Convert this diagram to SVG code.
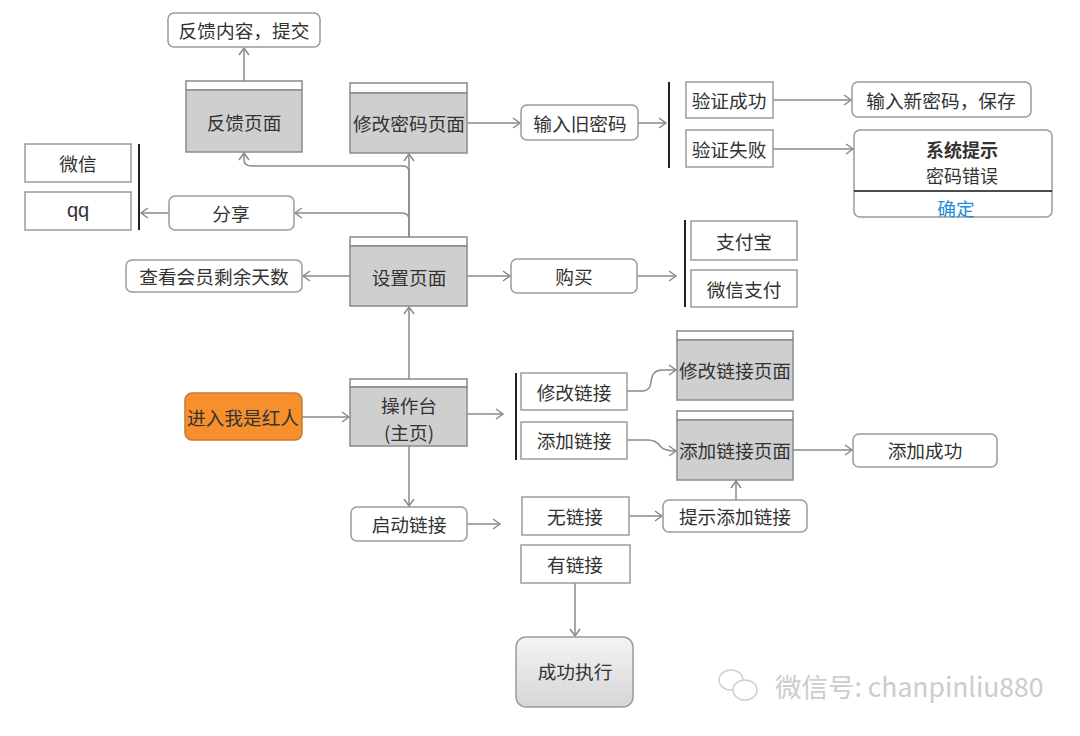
<svg xmlns="http://www.w3.org/2000/svg" width="1080" height="736" viewBox="0 0 1080 736">
<defs>
<marker id="arr" markerWidth="12" markerHeight="12" refX="9" refY="6" orient="auto" markerUnits="userSpaceOnUse">
<path d="M2,1 L9,6 L2,11" fill="none" stroke="#8a8a8a" stroke-width="1.5"/>
</marker>
<linearGradient id="g1" x1="0" y1="0" x2="0" y2="1">
<stop offset="0" stop-color="#f4f4f4"/>
<stop offset="1" stop-color="#d6d6d6"/>
</linearGradient>
</defs>
<style>
text{font-family:"Noto Sans CJK SC","Liberation Sans",sans-serif;font-size:18.7px;fill:#333;text-anchor:middle;dominant-baseline:central}
.r{fill:#fff;stroke:#9a9a9a;stroke-width:1.5}
.b{fill:#fff;stroke:#9a9a9a;stroke-width:1.5}
.pg{fill:#cfcfcf;stroke:#8a8a8a;stroke-width:1.5}
.ph{fill:#fff;stroke:#8a8a8a;stroke-width:1.5}
.br{stroke:#222;stroke-width:2;fill:none}
.c{fill:none;stroke:#8a8a8a;stroke-width:1.5;marker-end:url(#arr)}
.cn{fill:none;stroke:#8a8a8a;stroke-width:1.5}
</style>
<rect width="1080" height="736" fill="#fff"/>

<g id="connectors">
<path class="c" d="M244,90 V48"/>
<path class="cn" d="M409,246 V172"/>
<path class="c" d="M409,246 V154"/>
<path class="c" d="M409,172 Q409,166 403,166 H252 Q244,166 244,160 V153"/>
<path class="c" d="M409,220 Q409,213 402,213 H295"/>
<path class="c" d="M169,213 H141"/>
<path class="c" d="M350,276 H303"/>
<path class="c" d="M467,276 H510"/>
<path class="c" d="M637,276 H676"/>
<path class="c" d="M409,387 V307"/>
<path class="c" d="M302,417 H349"/>
<path class="c" d="M467,414 H503"/>
<path class="c" d="M409,446 V506"/>
<path class="c" d="M467,524 H500"/>
<path class="c" d="M627,391 H643 Q650,391 651,382 Q652,370 662,370 H676"/>
<path class="c" d="M627,440 H648 Q656,440 660,446 Q664,451 676,451"/>
<path class="c" d="M793,450 H852"/>
<path class="c" d="M629,516 H662"/>
<path class="c" d="M736,500 V481"/>
<path class="c" d="M575,583 V636"/>
<path class="c" d="M467,123 H520"/>
<path class="c" d="M638,123 H666"/>
<path class="c" d="M773,100 H851"/>
<path class="c" d="M773,149 H853"/>
</g>

<g id="n-feedback-submit"><rect class="r" x="168" y="13" width="152" height="34" rx="6"/><text x="244" y="29">反馈内容，提交</text></g>
<g id="n-feedback-page"><rect class="ph" x="186" y="81" width="116" height="9"/><rect class="pg" x="186" y="90" width="116" height="62"/><text x="244" y="121">反馈页面</text></g>
<g id="n-pwd-page"><rect class="ph" x="350" y="83" width="117" height="10"/><rect class="pg" x="350" y="93" width="117" height="60"/><text x="409" y="122">修改密码页面</text></g>
<g id="n-old-pwd"><rect class="r" x="521" y="105" width="117" height="35" rx="6"/><text x="580" y="122">输入旧密码</text></g>
<g id="n-verify">
<line class="br" x1="669" y1="82" x2="669" y2="168"/>
<rect class="b" x="686" y="82" width="87" height="36"/><text x="729" y="99">验证成功</text>
<rect class="b" x="686" y="130" width="87" height="37"/><text x="729" y="148">验证失败</text>
</g>
<g id="n-new-pwd"><rect class="r" x="852" y="82" width="179" height="35" rx="6"/><text x="941" y="99">输入新密码，保存</text></g>
<g id="n-alert">
<rect class="r" x="854" y="130" width="198" height="87" rx="6"/>
<line x1="854" y1="191" x2="1052" y2="191" stroke="#111" stroke-width="1.5"/>
<text x="962" y="149" font-weight="bold" style="font-size:18px">系统提示</text>
<text x="962" y="175" style="font-size:18px">密码错误</text>
<text x="956" y="207" style="fill:#1e8fd8">确定</text>
</g>
<g id="n-share-targets">
<rect class="b" x="25" y="144" width="106" height="38"/><text x="78" y="162">微信</text>
<rect class="b" x="25" y="192" width="106" height="38"/><text x="78" y="210" style="font-family:'Liberation Sans',sans-serif;font-size:20px">qq</text>
<line class="br" x1="139" y1="144" x2="139" y2="230"/>
</g>
<g id="n-share"><rect class="r" x="169" y="196" width="125" height="34" rx="6"/><text x="231" y="212">分享</text></g>
<g id="n-settings"><rect class="ph" x="350" y="237" width="117" height="9"/><rect class="pg" x="350" y="246" width="117" height="60"/><text x="409" y="276">设置页面</text></g>
<g id="n-member-days"><rect class="r" x="126" y="260" width="176" height="32" rx="6"/><text x="214" y="275">查看会员剩余天数</text></g>
<g id="n-buy"><rect class="r" x="511" y="259" width="126" height="34" rx="6"/><text x="574" y="275">购买</text></g>
<g id="n-pay">
<line class="br" x1="685" y1="220" x2="685" y2="307"/>
<rect class="b" x="691" y="221" width="106" height="39"/><text x="744" y="240">支付宝</text>
<rect class="b" x="691" y="270" width="106" height="37"/><text x="744" y="288">微信支付</text>
</g>
<g id="n-enter"><rect x="185" y="393" width="117" height="47" rx="7" fill="#f7902c" stroke="#c77a30" stroke-width="1.5"/><text x="243" y="416">进入我是红人</text></g>
<g id="n-console"><rect class="ph" x="350" y="379" width="117" height="8"/><rect class="pg" x="350" y="387" width="117" height="59"/><text x="409" y="404">操作台</text><text x="409" y="431">(主页)</text></g>
<g id="n-links">
<line class="br" x1="516" y1="373" x2="516" y2="460"/>
<rect class="b" x="521" y="373" width="106" height="37"/><text x="574" y="391">修改链接</text>
<rect class="b" x="521" y="422" width="106" height="37"/><text x="574" y="439">添加链接</text>
</g>
<g id="n-edit-link-page"><rect class="ph" x="677" y="331" width="116" height="9"/><rect class="pg" x="677" y="340" width="116" height="60"/><text x="735" y="369">修改链接页面</text></g>
<g id="n-add-link-page"><rect class="ph" x="677" y="411" width="116" height="9"/><rect class="pg" x="677" y="420" width="116" height="60"/><text x="735" y="449">添加链接页面</text></g>
<g id="n-add-success"><rect class="r" x="853" y="434" width="144" height="33" rx="6"/><text x="925" y="449">添加成功</text></g>
<g id="n-launch"><rect class="r" x="351" y="507" width="116" height="34" rx="6"/><text x="409" y="523">启动链接</text></g>
<g id="n-no-link"><rect class="b" x="522" y="497" width="107" height="38"/><text x="575" y="515">无链接</text></g>
<g id="n-prompt-add"><rect class="r" x="663" y="500" width="144" height="32" rx="6"/><text x="735" y="515">提示添加链接</text></g>
<g id="n-has-link"><rect class="b" x="521" y="545" width="109" height="38"/><text x="575" y="563">有链接</text></g>
<g id="n-run"><rect x="516" y="637" width="117" height="70" rx="10" fill="url(#g1)" stroke="#9a9a9a" stroke-width="1.5"/><text x="575" y="670">成功执行</text></g>

<g id="watermark" opacity="0.85">
<ellipse cx="731" cy="680" rx="12" ry="10" fill="none" stroke="#c8c8c8" stroke-width="1.5"/>
<ellipse cx="745" cy="690" rx="12" ry="10" fill="#fff" stroke="#c8c8c8" stroke-width="1.5"/>
<text x="775" y="685" style="text-anchor:start;font-size:26.5px;fill:#c4c4c4">微信号: chanpinliu880</text>
</g>
</svg>
